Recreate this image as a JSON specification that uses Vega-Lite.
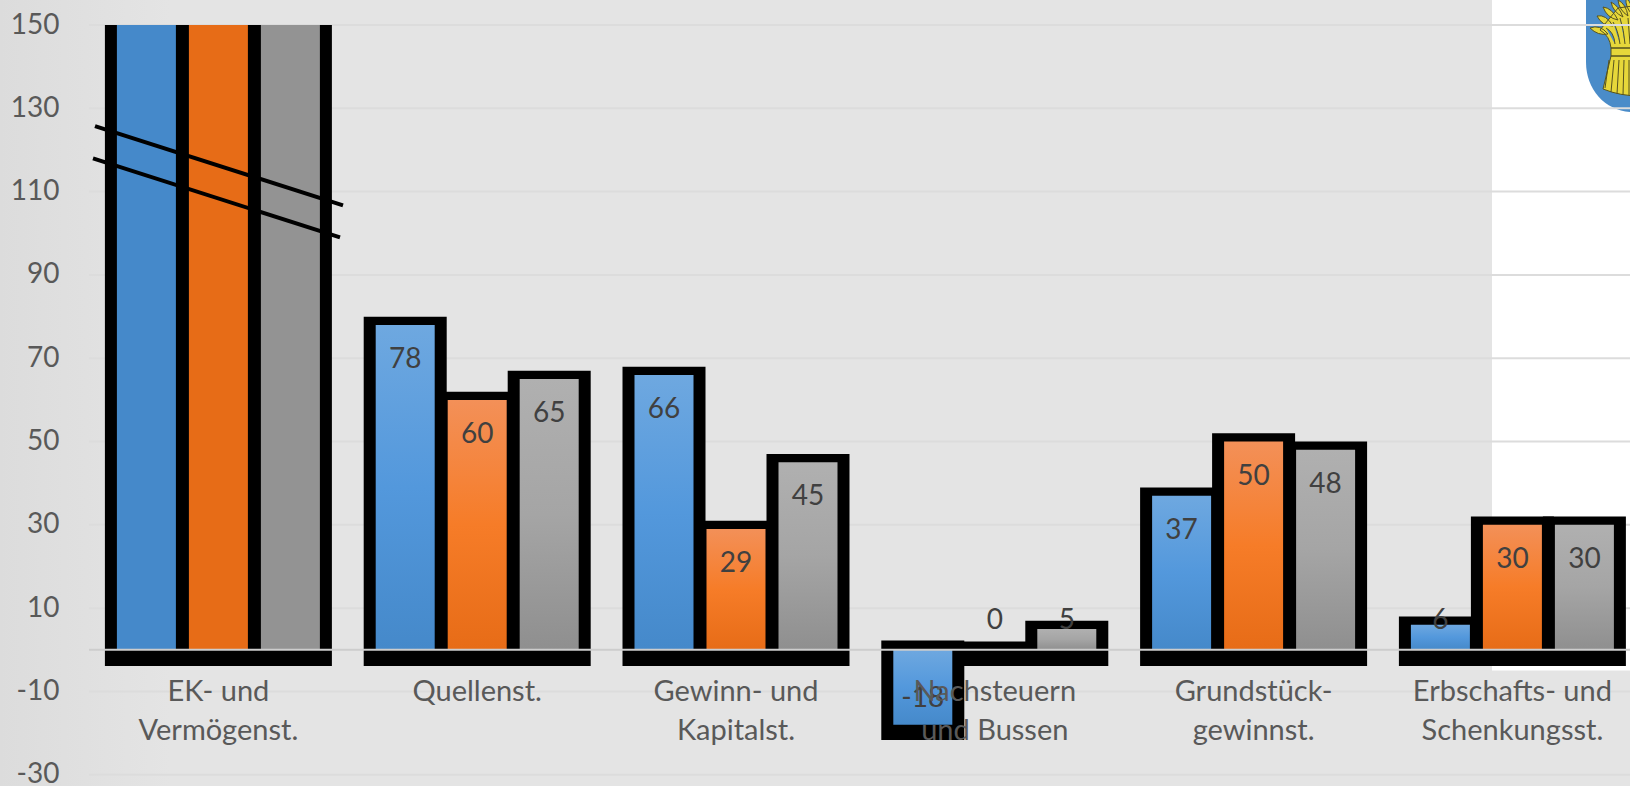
{
"$schema":"https://vega.github.io/schema/vega-lite/v6.json",
"width":1541,"height":761,
"autosize":"none",
"padding":{"left":89,"top":25,"right":0,"bottom":0},
"background":"#e4e4e4",
"config":{"view":{"stroke":null},"text":{"font":"Lato"},"axis":{"labelFont":"Lato"}},
"layer":[
{"layer":[
 {"data":{"values":[{"from":0,"to":170,"low":-40,"high":156}]},
  "mark":{"type":"rect","color":{"gradient":"linear","x1":0,"x2":1,"y1":0,"y2":0,"stops":[{"offset":0,"color":"#dcdcdc"},{"offset":1,"color":"#e4e4e4"}]}},
  "encoding":{"x":{"field":"from","type":"quantitative","scale":{"domain":[89,1630],"nice":false,"zero":false},"axis":null},"x2":{"field":"to"},
  "y":{"field":"low","type":"quantitative","title":null},"y2":{"field":"high"}}},
 {"data":{"values":[{"from":1492,"to":1640,"low":-5,"high":156}]},
  "mark":{"type":"rect","color":"#ffffff"},
  "encoding":{"x":{"field":"from","type":"quantitative","axis":null},"x2":{"field":"to"},
  "y":{"field":"low","type":"quantitative","title":null},"y2":{"field":"high"}}},
 {"data":{"values":[{"px":1630,"top":156}]},
  "mark":{"type":"point","filled":true,"opacity":1,"size":40000,"color":"#4a8cc9","shape":"M-0.44,-0.2 L0.5,-0.2 L0.5,1.12 L0,1.12 C-0.25,1.1 -0.44,0.9 -0.44,0.62 Z"},
  "encoding":{"x":{"field":"px","type":"quantitative","axis":null},"y":{"field":"top","type":"quantitative","title":null}}},
 {"data":{"values":[{"px":1630,"top":156}]},
  "mark":{"type":"point","filled":true,"opacity":1,"size":40000,"color":"#e6d73a","stroke":"#57531f","strokeWidth":1,"shape":"M-0.19,0.56 L-0.27,0.89 Q-0.1,0.96 0.1,0.96 L0.1,0.56 Z M-0.19,0.48 Q-0.2,0.36 -0.3,0.3 L-0.12,0.08 L0.1,0.05 L0.1,0.48 Z M-0.4,0.28 Q-0.3,0.24 -0.22,0.34 Q-0.32,0.36 -0.4,0.28 Z M-0.33,0.16 Q-0.24,0.14 -0.17,0.26 Q-0.28,0.26 -0.33,0.16 Z M-0.27,0.07 Q-0.18,0.08 -0.12,0.2 Q-0.23,0.18 -0.27,0.07 Z M-0.19,0.02 Q-0.11,0.06 -0.07,0.17 Q-0.17,0.12 -0.19,0.02 Z M-0.12,0 Q-0.04,0.04 -0.02,0.16 Q-0.11,0.1 -0.12,0 Z M-0.04,-0.02 Q0.03,0.04 0.03,0.15 Q-0.05,0.08 -0.04,-0.02 Z M-0.19,0.48 L0.1,0.48 L0.1,0.56 L-0.19,0.56 Z M-0.21,0.6 L-0.25,0.88 M-0.16,0.6 L-0.19,0.92 M-0.11,0.6 L-0.13,0.94 M-0.06,0.6 L-0.07,0.95 M-0.01,0.6 L-0.01,0.95 M-0.15,0.44 Q-0.16,0.32 -0.24,0.28 M-0.1,0.44 Q-0.12,0.3 -0.17,0.22 M-0.05,0.44 Q-0.06,0.3 -0.1,0.18 M0,0.44 L-0.02,0.18"},
  "encoding":{"x":{"field":"px","type":"quantitative","axis":null},"y":{"field":"top","type":"quantitative","title":null}}},
 {"data":{"values":[{"tick":-30},{"tick":-10},{"tick":10},{"tick":30},{"tick":50},{"tick":70},{"tick":90},{"tick":110},{"tick":130},{"tick":150}]},
  "mark":{"type":"rule","color":"#dcdcdc","strokeWidth":2},
  "encoding":{"y":{"field":"tick","type":"quantitative","title":null,"scale":{"domain":[-32.7,150],"nice":false,"zero":false},
   "axis":{"values":[-30,-10,10,30,50,70,90,110,130,150],"grid":false,"domain":false,"ticks":false,"labelPadding":30,"labelFontSize":28,"labelColor":"#595959","zindex":1,"labelFont":"Lato","labelExpr":"''+datum.value"}}}}
 ]},
{"data":{"values":[
 {"category":"EK- und\nVermögenst.","series":"Reihe 1","value":150},
 {"category":"EK- und\nVermögenst.","series":"Reihe 2","value":150},
 {"category":"EK- und\nVermögenst.","series":"Reihe 3","value":150},
 {"category":"Quellenst.","series":"Reihe 1","value":78},
 {"category":"Quellenst.","series":"Reihe 2","value":60},
 {"category":"Quellenst.","series":"Reihe 3","value":65},
 {"category":"Gewinn- und\nKapitalst.","series":"Reihe 1","value":66},
 {"category":"Gewinn- und\nKapitalst.","series":"Reihe 2","value":29},
 {"category":"Gewinn- und\nKapitalst.","series":"Reihe 3","value":45},
 {"category":"Nachsteuern\nund Bussen","series":"Reihe 1","value":-18},
 {"category":"Nachsteuern\nund Bussen","series":"Reihe 2","value":0},
 {"category":"Nachsteuern\nund Bussen","series":"Reihe 3","value":5},
 {"category":"Grundstück-\ngewinnst.","series":"Reihe 1","value":37},
 {"category":"Grundstück-\ngewinnst.","series":"Reihe 2","value":50},
 {"category":"Grundstück-\ngewinnst.","series":"Reihe 3","value":48},
 {"category":"Erbschafts- und\nSchenkungsst.","series":"Reihe 1","value":6},
 {"category":"Erbschafts- und\nSchenkungsst.","series":"Reihe 2","value":30},
 {"category":"Erbschafts- und\nSchenkungsst.","series":"Reihe 3","value":30}
 ]},
 "encoding":{
  "x":{"field":"category","type":"nominal","sort":null,"title":null,
   "scale":{"domain":["EK- und\nVermögenst.","Quellenst.","Gewinn- und\nKapitalst.","Nachsteuern\nund Bussen","Grundstück-\ngewinnst.","Erbschafts- und\nSchenkungsst."],"range":[0,1552.8],"paddingInner":0.1654,"paddingOuter":0.0827},
   "axis":{"orient":"bottom","offset":-116,"domain":false,"ticks":false,"labelAngle":0,"labelFontSize":29,"labelColor":"#595959","labelPadding":7,"labelLineHeight":39,"labelLimit":400,"labelOverlap":false,"labelExpr":"split(datum.label,'\\n')","zindex":1,"labelFont":"Lato"}},
  "xOffset":{"field":"series","type":"nominal","sort":null,"scale":{"domain":["Reihe 1","Reihe 2","Reihe 3"],"paddingInner":0,"paddingOuter":0}}
 },
 "layer":[
  {"transform":[{"filter":"datum.value>=0"}],
   "mark":{"type":"bar","color":"#000000","stroke":"#000000","strokeWidth":11,"yOffset":-2.75,"y2Offset":10.75,"clip":true},
   "encoding":{"y":{"field":"value","type":"quantitative","title":null},"y2":{"datum":0}}},
  {"transform":[{"filter":"datum.value<0"}],
   "mark":{"type":"bar","color":"#000000","stroke":"#000000","strokeWidth":11,"yOffset":9.75,"y2Offset":-3.75,"clip":true},
   "encoding":{"y":{"field":"value","type":"quantitative","title":null},"y2":{"datum":0}}},
  {"transform":[{"filter":"datum.value==150"}],
   "mark":{"type":"bar","width":59},
   "encoding":{"y":{"field":"value","type":"quantitative","title":null},"y2":{"datum":0},
    "color":{"field":"series","type":"nominal","legend":null,"scale":{"domain":["Reihe 1","Reihe 2","Reihe 3"],"range":["#4589ca","#e76c17","#939393"]}},
    "xOffset":{"field":"series","type":"nominal"}}},
  {"transform":[{"filter":"datum.value<150 && datum.series=='Reihe 1'"}],
   "mark":{"type":"bar","width":59,"color":{"gradient":"linear","x1":0,"x2":0,"y1":0,"y2":1,"stops":[{"offset":0,"color":"#6ea8e0"},{"offset":0.5,"color":"#5398dc"},{"offset":1,"color":"#4589ca"}]}},
   "encoding":{"y":{"field":"value","type":"quantitative","title":null},"y2":{"datum":0}}},
  {"transform":[{"filter":"datum.value<150 && datum.series=='Reihe 2'"}],
   "mark":{"type":"bar","width":59,"color":{"gradient":"linear","x1":0,"x2":0,"y1":0,"y2":1,"stops":[{"offset":0,"color":"#f39058"},{"offset":0.5,"color":"#f67c28"},{"offset":1,"color":"#e76c17"}]}},
   "encoding":{"y":{"field":"value","type":"quantitative","title":null},"y2":{"datum":0}}},
  {"transform":[{"filter":"datum.value<150 && datum.series=='Reihe 3'"}],
   "mark":{"type":"bar","width":59,"color":{"gradient":"linear","x1":0,"x2":0,"y1":0,"y2":1,"stops":[{"offset":0,"color":"#b0b0b0"},{"offset":0.5,"color":"#a5a5a5"},{"offset":1,"color":"#8f8f8f"}]}},
   "encoding":{"y":{"field":"value","type":"quantitative","title":null},"y2":{"datum":0}}},
  {"mark":{"type":"rule","color":"#cdcdcd","strokeWidth":2},
   "data":{"values":[{"base":0}]},
   "encoding":{"x":null,"xOffset":null,"y":{"field":"base","type":"quantitative","title":null}}},
  {"transform":[{"filter":"datum.value>=29 && datum.value<150"}],
   "mark":{"type":"text","fontSize":28,"color":"#404040","dy":35,"font":"Lato"},
   "encoding":{"y":{"field":"value","type":"quantitative","title":null},"text":{"field":"value","type":"nominal"}}},
  {"transform":[{"filter":"datum.value>=0 && datum.value<29"}],
   "mark":{"type":"text","fontSize":28,"color":"#404040","font":"Lato"},
   "encoding":{"y":{"datum":7,"type":"quantitative","title":null},"text":{"field":"value","type":"nominal"}}},
  {"transform":[{"filter":"datum.value<0"}],
   "mark":{"type":"text","fontSize":28,"color":"#404040","dy":-26,"font":"Lato"},
   "encoding":{"y":{"field":"value","type":"quantitative","title":null},"text":{"field":"value","type":"nominal"}}}
 ]},
{"data":{"values":[{"x1":95,"x2":343,"y1":125.7,"y2":106.7},{"x1":93,"x2":340,"y1":118,"y2":99}]},
 "mark":{"type":"rule","color":"#000000","strokeWidth":4},
 "encoding":{"x":{"field":"x1","type":"quantitative","axis":null,"scale":{"domain":[89,1630],"nice":false,"zero":false}},"x2":{"field":"x2"},
  "y":{"field":"y1","type":"quantitative","title":null},"y2":{"field":"y2"}}}
],
"resolve":{"scale":{"x":"independent"},"axis":{"x":"independent"}}
}
